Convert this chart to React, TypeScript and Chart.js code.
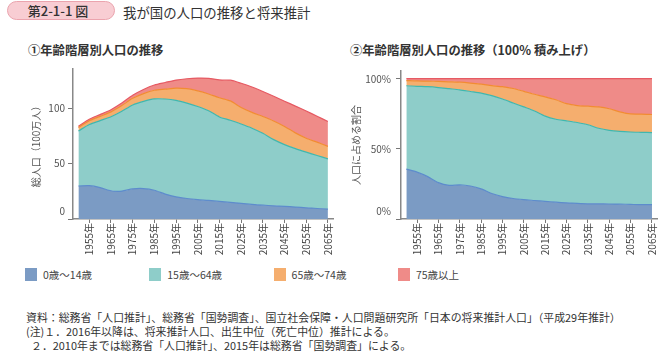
import React, { useEffect, useRef } from 'react';
import { Chart, registerables } from 'chart.js';
Chart.register(...registerables);

const FONT = "'Noto Sans CJK JP', 'Noto Sans', sans-serif";

const years = [1950, 1955, 1960, 1965, 1970, 1975, 1980, 1985, 1990, 1995, 2000, 2005, 2010, 2015, 2020, 2025, 2030, 2035, 2040, 2045, 2050, 2055, 2060, 2065];

const seriesNames = ['0歳～14歳', '15歳～64歳', '65歳～74歳', '75歳以上'];

// population, millions (100万人)
const pop0_14 = [29.8, 30.1, 28.4, 25.5, 25.2, 27.2, 27.5, 26.0, 22.5, 20.0, 18.5, 17.5, 16.8, 15.9, 15.1, 14.1, 13.2, 12.5, 11.9, 11.4, 10.8, 10.1, 9.5, 9.0];
const pop15_64 = [49.7, 55.2, 60.5, 66.9, 72.1, 75.8, 78.8, 82.5, 85.9, 87.2, 86.2, 84.1, 81.0, 76.3, 74.1, 71.7, 68.8, 64.9, 59.8, 55.8, 52.8, 50.3, 47.9, 45.3];
const pop65_74 = [3.1, 3.4, 3.8, 4.4, 5.2, 6.0, 7.0, 7.8, 8.9, 11.1, 13.0, 14.1, 15.1, 17.3, 17.5, 15.0, 14.3, 15.2, 16.8, 16.4, 14.2, 12.6, 12.0, 11.3];
const pop75p = [1.1, 1.4, 1.6, 1.9, 2.2, 2.8, 3.7, 4.7, 6.0, 7.2, 9.0, 11.6, 14.2, 16.1, 18.7, 21.8, 22.9, 22.6, 22.4, 22.8, 24.2, 24.5, 23.4, 22.5];

// shares, %
const share0_14 = [35.6, 33.4, 30.2, 25.9, 24.0, 24.3, 23.5, 21.5, 18.2, 16.0, 14.6, 13.8, 13.2, 12.6, 12.0, 11.5, 11.1, 10.8, 10.8, 10.7, 10.6, 10.4, 10.2, 10.2];
const share15_64 = [59.4, 61.2, 64.1, 67.8, 68.9, 67.8, 67.4, 68.2, 69.7, 69.5, 68.1, 66.1, 63.8, 60.7, 59.1, 58.5, 57.7, 56.4, 53.9, 52.5, 51.8, 51.6, 51.6, 51.4];
const share65_74 = [3.7, 3.8, 4.0, 4.4, 4.9, 5.4, 6.0, 6.4, 7.2, 8.8, 10.3, 11.1, 11.9, 13.8, 13.9, 12.2, 12.0, 13.2, 15.2, 15.4, 14.0, 12.9, 13.0, 12.9];
const share75p = [1.3, 1.6, 1.7, 1.9, 2.2, 2.5, 3.1, 3.9, 4.9, 5.7, 7.0, 9.0, 11.1, 12.9, 15.0, 17.8, 19.2, 19.6, 20.1, 21.4, 23.6, 25.1, 25.2, 25.5];

const leftTicks = [0, 50, 100];
const rightTicks = [0, 50, 100];

const fills = ['#7b9bc4', '#8ecdc9', '#f5ae6e', '#ef8b88'];
const lines = ['#5d8ccc', '#40b7ae', '#f28c32', '#e65a63'];

function buildDatasets(arrs: number[][]) {
  return arrs.map((d, i) => ({
    label: seriesNames[i],
    data: d,
    backgroundColor: fills[i],
    borderColor: lines[i],
    borderWidth: 1.2,
    pointRadius: 0,
    tension: 0.25,
    fill: i === 0 ? 'origin' : '-1',
  }));
}

const zeroLabelPlugin = {
  id: 'zeroLabel',
  afterDraw(chart: any) {
    const s = chart.scales.y;
    const opts: any = chart.options.plugins.zeroLabel || {};
    const ctx = chart.ctx;
    ctx.save();
    ctx.font = `10px ${FONT}`;
    ctx.fillStyle = '#555';
    ctx.textAlign = 'right';
    ctx.textBaseline = 'middle';
    ctx.fillText(opts.text || '0', s.right - 5 - (opts.pad || 3), s.getPixelForValue(0) - 8);
    ctx.restore();
  },
};

function makeChart(canvas: HTMLCanvasElement, arrs: number[][], cfg: any) {
  return new Chart(canvas, {
    type: 'line',
    data: { labels: years.map(String), datasets: buildDatasets(arrs) as any },
    plugins: [zeroLabelPlugin as any],
    options: {
      responsive: false,
      animation: false,
      events: [],
      layout: { padding: { left: 0, right: cfg.padRight, top: 7, bottom: 0 } },
      plugins: { legend: { display: false }, tooltip: { enabled: false }, zeroLabel: { text: cfg.zeroText, pad: cfg.tickPad } } as any,
      scales: {
        x: {
          type: 'category',
          offset: true,
          grid: { display: true, drawOnChartArea: false, drawTicks: true, tickLength: 4, color: '#777', offset: false },
          border: { color: '#888', width: 1.5 },
          ticks: {
            autoSkip: false,
            maxRotation: 90,
            minRotation: 90,
            padding: 0,
            color: '#444',
            font: { family: FONT, size: 10 },
            callback: (_v: any, idx: number) => (years[idx] % 10 === 5 ? `${years[idx]}年` : null),
          },
          afterFit: (s: any) => { s.height = 41; },
        },
        y: {
          type: 'linear',
          stacked: true,
          min: 0,
          max: cfg.max,
          afterBuildTicks: (s: any) => { s.ticks = cfg.ticks.map((v: number) => ({ value: v })); },
          grid: { display: true, drawOnChartArea: false, drawTicks: true, tickLength: 5, color: '#777' },
          border: { color: '#888', width: 1.5 },
          ticks: {
            padding: cfg.tickPad,
            color: '#555',
            font: { family: FONT, size: 10 },
            callback: (v: any) => (v === 0 ? '' : cfg.fmt(v)),
          },
          title: {
            display: true,
            text: cfg.title,
            color: '#555',
            font: { family: FONT, size: 10 },
            padding: { top: 10, bottom: 0 },
          },
          afterFit: (s: any) => { s.width = cfg.yWidth; },
        },
      },
    } as any,
  });
}

export default function App() {
  const leftRef = useRef<HTMLCanvasElement>(null);
  const rightRef = useRef<HTMLCanvasElement>(null);

  useEffect(() => {
    const c1 = makeChart(leftRef.current!, [pop0_14, pop15_64, pop65_74, pop75p], {
      max: 135.5, ticks: leftTicks, fmt: (v: number) => `${v}`, title: '総人口（100万人）', yWidth: 53, padRight: 4, tickPad: 3, zeroText: '0',
    });
    const c2 = makeChart(rightRef.current!, [share0_14, share15_64, share65_74, share75p], {
      max: 105.5, ticks: rightTicks, fmt: (v: number) => `${v}%`, title: '人口に占める割合', yWidth: 61, padRight: 1, tickPad: 5, zeroText: '0%',
    });
    return () => { c1.destroy(); c2.destroy(); };
  }, []);

  const abs = (l: number, t: number): React.CSSProperties => ({ position: 'absolute', left: l, top: t });
  const note: React.CSSProperties = { fontSize: 10.9, lineHeight: '14px', color: '#333', whiteSpace: 'nowrap' };

  return (
    <div style={{ position: 'fixed', left: 0, top: 0, width: 664, height: 355, background: '#fff', fontFamily: FONT, color: '#333', overflow: 'hidden' }}>
      <div style={{ ...abs(7, 1), width: 108, height: 19, borderRadius: 10, background: '#f8cdd3', border: '1px solid #eba4ae', boxSizing: 'border-box', display: 'flex', alignItems: 'center', justifyContent: 'center', fontSize: 13, fontWeight: 500, color: '#333', paddingRight: 6 }}>
        第2-1-1 図
      </div>
      <div style={{ ...abs(123, 2), fontSize: 13.4, lineHeight: '20px', color: '#333', whiteSpace: 'nowrap' }}>我が国の人口の推移と将来推計</div>
      <div style={{ ...abs(28, 41), fontSize: 12.3, lineHeight: '18px', fontWeight: 700, color: '#333', whiteSpace: 'nowrap' }}>①年齢階層別人口の推移</div>
      <div style={{ ...abs(350, 41), fontSize: 12.3, lineHeight: '18px', fontWeight: 700, color: '#333', whiteSpace: 'nowrap' }}>②年齢階層別人口の推移（100% 積み上げ）</div>

      <canvas ref={leftRef} width={320} height={200} style={{ ...abs(20, 60), width: 320, height: 200 }} />
      <canvas ref={rightRef} width={324} height={200} style={{ ...abs(340, 60), width: 324, height: 200 }} />

      {seriesNames.map((n, i) => (
        <div key={n} style={{ ...abs(25 + i * 124.3, 267), display: 'flex', alignItems: 'center', height: 14, whiteSpace: 'nowrap' }}>
          <div style={{ width: 12, height: 13, background: fills[i], marginRight: 6 }} />
          <span style={{ fontSize: 10.5, color: '#444' }}>{n}</span>
        </div>
      ))}

      <div style={{ ...abs(26, 310), ...note }}>
        資料：総務省「人口推計」、総務省「国勢調査」、国立社会保障・人口問題研究所「日本の将来推計人口」（平成29年推計）
      </div>
      <div style={{ ...abs(26, 324), ...note }}>
        (注)１．2016年以降は、将来推計人口、出生中位（死亡中位）推計による。
      </div>
      <div style={{ ...abs(31, 338), ...note }}>
        ２．2010年までは総務省「人口推計」、2015年は総務省「国勢調査」による。
      </div>
    </div>
  );
}
